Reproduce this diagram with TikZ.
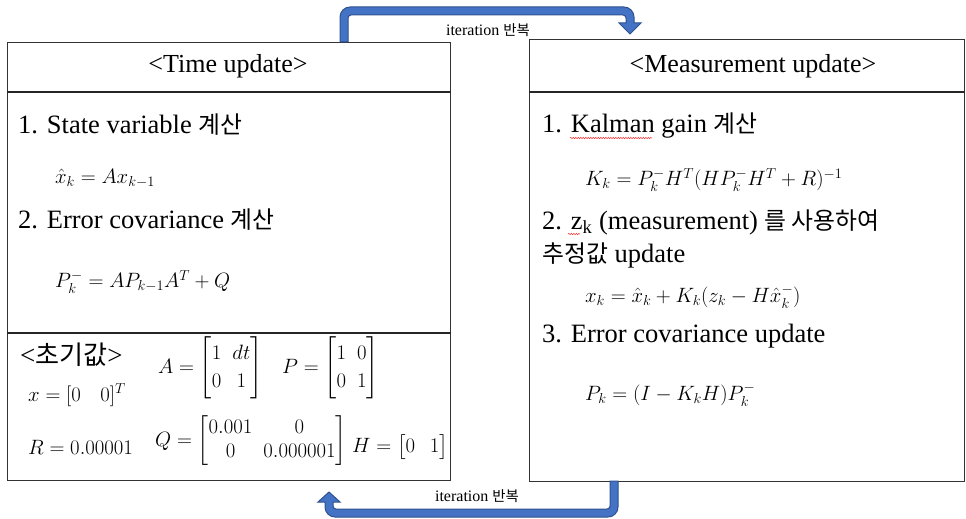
\documentclass[tikz,border=0pt]{standalone}
\usepackage{amsmath}
\usepackage{fontspec}
\setmainfont{Liberation Serif}
\newfontfamily\kr[Scale=0.9]{Noto Sans CJK KR}
\usetikzlibrary{decorations.pathmorphing}
\definecolor{arrowblue}{HTML}{4472C4}
\definecolor{arrowedge}{HTML}{2F528F}
\newcommand\mymatset{\setlength{\arraycolsep}{5.5pt}\renewcommand{\arraystretch}{1.2}}
\newcommand\mymatsetq{\setlength{\arraycolsep}{5.5pt}\renewcommand{\arraystretch}{1.05}}
\begin{document}
\begin{tikzpicture}[x=1pt,y=-1pt,
  box/.style={draw=black!80, line width=1.2pt, inner sep=0pt, anchor=north west},
  sepline/.style={draw=black!85, line width=2pt},
  bt/.style={anchor=west, inner sep=0pt, font=\fontsize{26.5}{30}\selectfont},
  hd/.style={inner sep=0pt, font=\fontsize{26}{30}\selectfont},
  eq/.style={anchor=west, inner sep=0pt, font=\fontsize{20}{24}\selectfont},
  eqs/.style={anchor=west, inner sep=0pt, font=\fontsize{19.5}{23}\selectfont\mymatset},
  eqq/.style={anchor=west, inner sep=0pt, font=\fontsize{19.5}{23}\selectfont\mymatsetq},
  lab/.style={inner sep=0pt, font=\fontsize{16}{18}\selectfont},
  barrow/.style={fill=arrowblue, draw=arrowedge, line width=1pt},
  squig/.style={draw=red!80, line width=0.5pt, decorate, decoration={snake, amplitude=0.7pt, segment length=2.5pt}}]
\useasboundingbox (0,0) rectangle (966,519);

% boxes
\node[box, minimum width=443pt, minimum height=438pt] (tu) at (7,42) {};
\node[box, minimum width=435pt, minimum height=442pt] (mu) at (529,39) {};
\coordinate (s1) at (0,92);
\coordinate (s2) at (0,333);
\draw[sepline] (tu.west |- s1) -- (tu.east |- s1);
\draw[sepline] (tu.west |- s2) -- (tu.east |- s2);
\draw[sepline] (mu.west |- s1) -- (mu.east |- s1);

% headers
\node[hd] (h1) at (228,66) {<Time update>};
\node[hd] (h2) at (753,66) {<Measurement update>};

% time update
\node[bt] (t1) at (18,125) {1. State variable {\kr 계산}};
\node[eq] (e1) at (55,178) {$\hat{x}_k = Ax_{k-1}$};
\node[bt] (t2) at (18,220) {2. Error covariance {\kr 계산}};
\node[eqs] (e2) at (55,282) {$P_k^- = AP_{k-1}A^T + Q$};

% initial values
\node[bt, font=\fontsize{27}{30}\selectfont] (init) at (20,355) {<{\kr\fontsize{29}{30}\selectfont 초기값}>};
\node[eqs] (x0) at (28,395) {$x = [0\quad 0]^T$};
\node[eqs] (Am) at (158,368) {$A = \begin{bmatrix}1 & dt\\ 0 & 1\end{bmatrix}$};
\node[eqs] (Pm) at (282,368) {$P = \begin{bmatrix}1 & 0\\ 0 & 1\end{bmatrix}$};
\node[eqs] (R) at (28,447) {$R = 0.00001$};
\node[eqq] (Qm) at (155,441) {$Q = \begin{bmatrix}0.001 & 0\\ 0 & 0.000001\end{bmatrix}$};
\node[eqs] (Hm) at (352,447) {$H = \bigl[0\ \ \ 1\bigr]$};

% measurement update
\node[bt] (m1) at (542,125) {1. Kalman gain {\kr 계산}};
\node[eq] (ke) at (585,180) {$K_k = P_k^- H^T (HP_k^- H^T + R)^{-1}$};
\node[bt] (m2) at (542,222) {2. z\textsubscript{k} (measurement) {\kr 를 사용하여}};
\node[bt] (m2b) at (542,255) {{\kr 추정값} update};
\node[eq] (xe) at (585,297) {$x_k = \hat{x}_k + K_k(z_k - H\hat{x}_k^-)$};
\node[bt] (m3) at (542,336) {3. Error covariance update};
\node[eq] (pe) at (585,395) {$P_k = (I - K_k H)P_k^-$};

% spell-check squiggles
\draw[squig] (570,138) -- (652,138);
\draw[squig] (568,234) -- (580,234);

% arrows
\draw[barrow] (340,42) [rounded corners=10pt] -- (340,7) -- (634,7) [sharp corners] -- (634,23) -- (641,23) -- (630,34) -- (619,23) -- (626,23) [rounded corners=3pt] -- (626,15) -- (348,15) [sharp corners] -- (348,42) -- cycle;
\draw[barrow] (618,481) [rounded corners=10pt] -- (618,517) -- (325,517) [sharp corners] -- (325,502) -- (318,502) -- (329,492) -- (340,502) -- (333,502) [rounded corners=3pt] -- (333,509) -- (610,509) [sharp corners] -- (610,481) -- cycle;

\node[lab] (it1) at (488,30) {iteration {\kr 반복}};
\node[lab] (it2) at (477,496) {iteration {\kr 반복}};
\end{tikzpicture}
\end{document}
